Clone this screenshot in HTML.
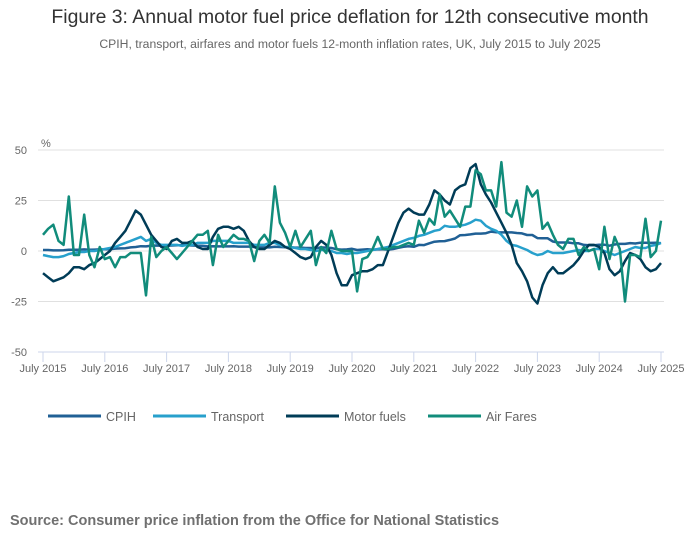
<!DOCTYPE html>
<html><head><meta charset="utf-8"><style>
body{margin:0;background:#fff;font-family:"Liberation Sans",sans-serif;}
#wrap{position:relative;width:700px;height:549px;overflow:hidden}
.t{position:absolute;white-space:nowrap}
</style></head><body>
<div id="wrap">
<div class="t" style="left:0;width:700px;text-align:center;top:6px;font-size:19.4px;color:#333">Figure 3: Annual motor fuel price deflation for 12th consecutive month</div>
<div class="t" style="left:0;width:700px;text-align:center;top:37px;font-size:12.2px;color:#666">CPIH, transport, airfares and motor fuels 12-month inflation rates, UK, July 2015 to July 2025</div>
<svg id="chart" width="700" height="549" style="position:absolute;left:0;top:0" font-family="Liberation Sans, sans-serif"></svg>
<div class="t" style="left:10px;top:513px;font-size:14.5px;font-weight:bold;color:#707070">Source: Consumer price inflation from the Office for National Statistics</div>
</div>
<script>
const yTicks=[50,25,0,-25,-50];
const xTickLabels=["July 2015","July 2016","July 2017","July 2018","July 2019","July 2020","July 2021","July 2022","July 2023","July 2024","July 2025"];
const seriesNames=["CPIH","Transport","Motor fuels","Air Fares"];
const cpih=[0.5,0.5,0.3,0.3,0.4,0.6,0.6,0.6,0.8,0.6,0.7,0.8,0.9,0.9,1.2,1.3,1.4,1.8,2.0,2.4,2.3,2.6,2.7,2.6,2.6,2.7,2.8,2.8,2.8,2.7,2.6,2.5,2.3,2.4,2.3,2.3,2.3,2.4,2.2,2.2,2.2,2.0,1.8,1.8,1.8,2.1,2.0,1.9,1.9,1.7,1.7,1.5,1.5,1.4,1.8,1.7,1.5,0.9,0.7,0.8,1.1,0.5,0.7,0.9,0.6,0.8,0.9,0.7,1.0,1.6,2.1,2.4,2.1,3.0,2.9,3.8,4.6,4.8,4.9,5.5,6.2,7.8,7.9,8.2,8.6,8.6,8.8,9.6,9.3,9.2,9.2,9.2,8.9,8.7,7.9,7.9,6.4,6.3,6.3,4.7,4.2,4.2,4.2,3.8,3.8,3.0,2.8,2.8,3.1,3.1,2.6,3.2,3.5,3.5,3.9,3.7,4.1,4.1,4.0,4.1,3.8];
const transport=[-2,-2.5,-3,-3,-2.5,-1.5,-1,-0.5,-0.5,0,0,0.5,1,1.5,2,3,4,5,6,7,5,6,4,3,3,3,3,2.5,3,3,4,4,4,5,5,5,5,4,4,4,4,3,3,3,4,4,3,2,2,1.5,1,1,0.5,0,0.5,0.5,0,-1,-1,-1.5,-1,-1,-0.5,0,0.5,1,1.5,2,3,4,5,6,6.5,7.5,8,9,10,10.5,12.5,12,12,12.5,13,14,15.5,15,12.5,11,10,8,5,3,2.5,1.5,0.5,-1,-2,-1.5,0,-1,-1,-1,-0.5,0,0.5,0,0,1,1,0,-1,-2,-1,0,1,2,1.5,1.5,2.5,3,4];
const motorFuels=[-11,-13,-15,-14,-13,-11,-8,-8,-9,-7,-6,-4,-2,0,4,7,10,15,20,18,13,8,5,2,1,5,6,4,4,5,2,1,1,7,11,12,12,11,12,10,5,2,1,1,3,5,4,2,1,-1,-3,-4,-3,2,5,3,-2,-11,-17,-17,-12,-11,-10,-10,-9,-7,-7,0,7,14,19,21,19,18,18,23,30,28,25,23,30,32,33,41,43,33,28,24,19,14,9,3,-6,-10,-15,-23,-26,-17,-11,-8,-11,-11,-9,-7,-4,0,3,3,2,-1,-9,-12,-10,-5,-1,-2,-4,-8,-10,-9,-6];
const airFares=[8,11,13,5,3,27,-2,-2,18,-2,-8,2,-4,-3,-8,-3,-3,-1,-1,-1,-22,7,-3,0,2,-1,-4,-1,2,5,8,8,10,-7,8,2,5,8,6,6,5,-5,5,8,4,32,14,9,2,10,2,6,10,-7,2,-1,10,1,0,0,0,-20,-4,-3,1,7,1,1,2,2,3,4,3,15,9,16,13,28,17,20,16,12,22,22,40,38,30,30,22,44,19,17,25,12,32,27,30,11,14,8,3,1,6,6,-2,2,0,1,-9,12,-4,7,1,-25,-2,-2,-3,16,-3,0,15];
const seriesData=[cpih,transport,motorFuels,airFares];
const colors=["#206095","#27a0cc","#003c57","#118c7b"];
const NS="http://www.w3.org/2000/svg";
const svg=document.getElementById('chart');
const X0=43,X1=661,YT=150,YB=352;
const xS=m=>X0+(X1-X0)*m/120;
const yS=v=>YB-(v+50)/100*(YB-YT);
function mk(tag,attrs){const e=document.createElementNS(NS,tag);for(const k in attrs)e.setAttribute(k,attrs[k]);svg.appendChild(e);return e;}
yTicks.forEach(v=>{
  if(v!==-50){const g=mk('line',{x1:38,x2:664,y1:yS(v),y2:yS(v),stroke:'#e0e0e0','stroke-width':1});
  
  }
  const t=mk('text',{x:27,y:yS(v)+4,'text-anchor':'end','font-size':11,fill:'#666'});t.textContent=v;
  
  
});
const pct=mk('text',{x:41,y:147,'font-size':11,fill:'#666'});pct.textContent='%';


const ax=mk('line',{x1:38,x2:664,y1:YB,y2:YB,stroke:'#ccd6eb','stroke-width':1});


xTickLabels.forEach((l,i)=>{
  const x=xS(i*12);
  const tk=mk('line',{x1:x,x2:x,y1:YB,y2:YB+10,stroke:'#ccd6eb','stroke-width':1});
  
  
  const t=mk('text',{x:x,y:372,'text-anchor':'middle','font-size':11,fill:'#666'});t.textContent=l;
  
  
});
seriesData.forEach((d,si)=>{
  const p=mk('path',{d:d.map((v,i)=>(i?'L':'M')+xS(i).toFixed(1)+','+yS(v).toFixed(1)).join(''),fill:'none',stroke:colors[si],'stroke-width':2.5,'stroke-linejoin':'round'});
  
  
});
const legX=[48,153,286,428];
seriesNames.forEach((n,i)=>{
  const l=mk('line',{x1:legX[i],x2:legX[i]+53,y1:416,y2:416,stroke:colors[i],'stroke-width':3});
  
  
  const t=mk('text',{x:legX[i]+58,y:421,'font-size':12.5,fill:'#666'});t.textContent=n;
  
  
});
</script>
</body></html>
